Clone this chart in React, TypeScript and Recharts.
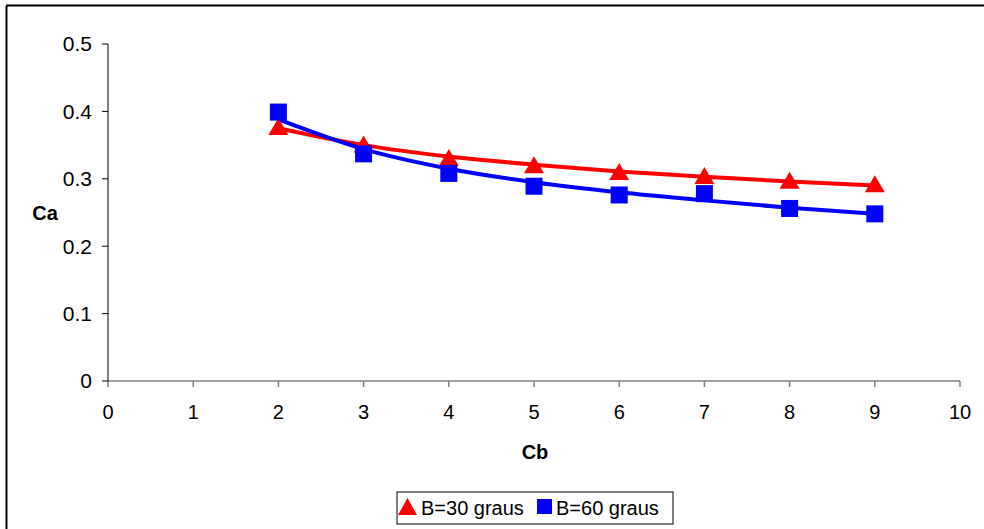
import React from 'react';
import { ComposedChart, Line, XAxis, YAxis, Customized } from 'recharts';

const cbValues = [2, 3, 4, 5, 6, 7, 8, 9];
const b30Points = [0.377, 0.351, 0.331, 0.320, 0.310, 0.304, 0.297, 0.292];
const b60Points = [0.399, 0.337, 0.308, 0.289, 0.276, 0.278, 0.256, 0.248];
const b30Trend = [0.375, 0.350, 0.333, 0.321, 0.311, 0.303, 0.296, 0.290];
const b60Trend = [0.388, 0.344, 0.315, 0.295, 0.280, 0.268, 0.257, 0.248];
const xTicks = [0, 1, 2, 3, 4, 5, 6, 7, 8, 9, 10];
const yTicks = [0, 0.1, 0.2, 0.3, 0.4, 0.5];
const seriesNames = ['B=30 graus', 'B=60 graus'];

const data = cbValues.map((x, i) => ({
  x,
  b30: b30Points[i],
  b60: b60Points[i],
  b30t: b30Trend[i],
  b60t: b60Trend[i],
}));

const FONT = 'Liberation Sans, Arial, sans-serif';

const Triangle = (props: any) => {
  const { cx, cy } = props;
  if (cx == null || cy == null) return null;
  return <path d={`M${cx},${cy - 9} L${cx + 10},${cy + 8} L${cx - 10},${cy + 8} Z`} fill="#ff0000" />;
};
const Square = (props: any) => {
  const { cx, cy } = props;
  if (cx == null || cy == null) return null;
  return <rect x={cx - 8.5} y={cy - 8.5} width={17} height={17} fill="#0000ff" />;
};

const Decor = () => (
  <g>
    <text x={45} y={220} textAnchor="middle" fontFamily={FONT} fontSize={20} fontWeight="bold" fill="#000">Ca</text>
    <text x={535} y={459} textAnchor="middle" fontFamily={FONT} fontSize={20} fontWeight="bold" fill="#000">Cb</text>
    <rect x={397} y={492} width={276} height={32} fill="#fff" stroke="#000" strokeWidth={1} />
    <path d="M407.5,498 L417,515 L398,515 Z" fill="#ff0000" />
    <text x={421} y={515} fontFamily={FONT} fontSize={20} fill="#000">{seriesNames[0]}</text>
    <rect x={537} y={499} width={15} height={15} fill="#0000ff" />
    <text x={556} y={515} fontFamily={FONT} fontSize={20} fill="#000">{seriesNames[1]}</text>
  </g>
);

export default function App() {
  return (
    <div style={{ position: 'absolute', left: 0, top: 0, width: 984, height: 529, background: '#fff', overflow: 'hidden' }}>
      <svg width={984} height={529} style={{ position: 'absolute', left: 0, top: 0 }}>
        <line x1={6.5} y1={6} x2={6.5} y2={529} stroke="#000" strokeWidth={2} />
        <line x1={6} y1={5.5} x2={984} y2={5.5} stroke="#000" strokeWidth={2} />
      </svg>
      <div style={{ position: 'absolute', left: 0, top: 0 }}>
        <ComposedChart width={984} height={529} data={data} margin={{ top: 44, right: 24, left: 0, bottom: 0 }}>
          <XAxis
            dataKey="x"
            type="number"
            domain={[0, 10]}
            ticks={xTicks}
            interval={0}
            height={148}
            stroke="#808080"
            strokeWidth={1.5}
            tickSize={6}
            tickMargin={18}
            tick={{ fill: '#000', fontSize: 20, fontFamily: FONT }}
            tickLine={{ stroke: '#808080' }}
          />
          <YAxis
            type="number"
            domain={[0, 0.5]}
            ticks={yTicks}
            interval={0}
            width={108}
            stroke="#000"
            tickSize={6}
            tickMargin={10}
            tick={{ fill: '#000', fontSize: 21, fontFamily: FONT }}
            tickFormatter={(v: number) => String(v)}
          />
          <Line dataKey="b30" stroke="none" dot={<Triangle />} activeDot={false} isAnimationActive={false} legendType="none" />
          <Line dataKey="b60" stroke="none" dot={<Square />} activeDot={false} isAnimationActive={false} legendType="none" />
          <Line dataKey="b30t" type="monotone" stroke="#ff0000" strokeWidth={4} dot={false} activeDot={false} isAnimationActive={false} />
          <Line dataKey="b60t" type="monotone" stroke="#0000ff" strokeWidth={4} dot={false} activeDot={false} isAnimationActive={false} />
          <Customized component={Decor} />
        </ComposedChart>
      </div>
    </div>
  );
}
